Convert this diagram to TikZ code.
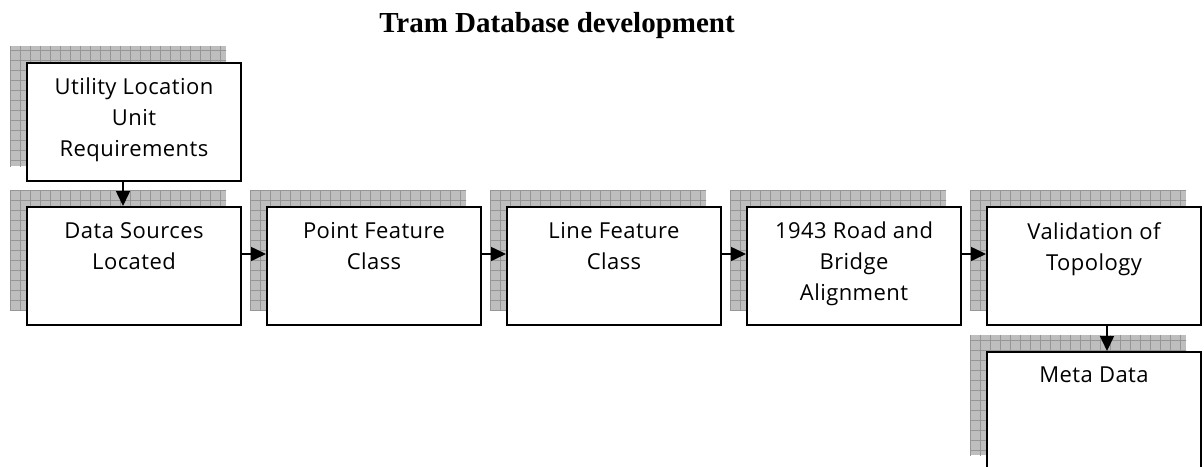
\documentclass[tikz,border=0pt]{standalone}
\usepackage{fontspec}
\setmainfont{Liberation Serif}
\newfontfamily\boxfont[LetterSpace=2]{Open Sans}
\usetikzlibrary{arrows.meta}
\definecolor{shadefill}{RGB}{190,190,190}
\definecolor{shadeline}{RGB}{150,150,150}
\newcommand\gridshadow[2]{%
  \begin{scope}
    \clip (#1-124,#2-76) rectangle (#1+92,#2+44);
    \fill[shadefill] (#1-124,#2-76) rectangle (#1+92,#2+44);
    \draw[shadeline, line width=0.8pt, step=10pt] (#1-130,#2-80) grid (#1+100,#2+50);
  \end{scope}}
\begin{document}
\begin{tikzpicture}[x=1pt,y=-1pt,
  box/.style={draw=black, line width=2pt, fill=white, minimum width=214pt, minimum height=118pt, inner sep=0pt},
  lbl/.style={font=\boxfont\fontsize{22}{31}\selectfont, align=center, anchor=north, inner sep=0pt},
  conn/.style={line width=1.5pt, -{Triangle[length=15pt,width=14pt]}},
  ttl/.style={font=\bfseries\fontsize{29}{34}\selectfont, anchor=base, inner sep=0pt}]
\useasboundingbox (0,0) rectangle (1204,466);
\begin{scope}
\clip (0,0) rectangle (1204,466);
% shadows
\gridshadow{134}{122}
\gridshadow{134}{266}
\gridshadow{374}{266}
\gridshadow{614}{266}
\gridshadow{854}{266}
\gridshadow{1094}{266}
\gridshadow{1094}{411}
% boxes
\node[box] (b1) at (134,122) {};
\node[box] (b2) at (134,266) {};
\node[box] (b3) at (374,266) {};
\node[box] (b4) at (614,266) {};
\node[box] (b5) at (854,266) {};
\node[box] (b6) at (1094,266) {};
\node[box] (b7) at (1094,411) {};
\end{scope}
% title
\node[ttl] (title) at (557,32) {Tram Database development};
% labels
\node[lbl] (t1) at ([yshift=-16pt]b1.north) {Utility Location\\Unit\\Requirements};
\node[lbl] (t2) at ([yshift=-16pt]b2.north) {Data Sources\\Located};
\node[lbl] (t3) at ([yshift=-16pt]b3.north) {Point Feature\\Class};
\node[lbl] (t4) at ([yshift=-16pt]b4.north) {Line Feature\\Class};
\node[lbl] (t5) at ([yshift=-16pt]b5.north) {1943 Road and\\Bridge\\Alignment};
\node[lbl] (t6) at ([yshift=-16pt]b6.north) {Validation of\\Topology};
\node[lbl] (t7) at ([yshift=-16pt]b7.north) {Meta Data};
% connectors
\draw[conn] ([xshift=-11pt]b1.south) -- ([xshift=-11pt]b2.north);
\draw[conn] ([yshift=12pt]b2.east) -- ([yshift=12pt]b3.west);
\draw[conn] ([yshift=12pt]b3.east) -- ([yshift=12pt]b4.west);
\draw[conn] ([yshift=12pt]b4.east) -- ([yshift=12pt]b5.west);
\draw[conn] ([yshift=12pt]b5.east) -- ([yshift=12pt]b6.west);
\draw[conn] ([xshift=13pt]b6.south) -- ([xshift=13pt]b7.north);
\end{tikzpicture}
\end{document}
